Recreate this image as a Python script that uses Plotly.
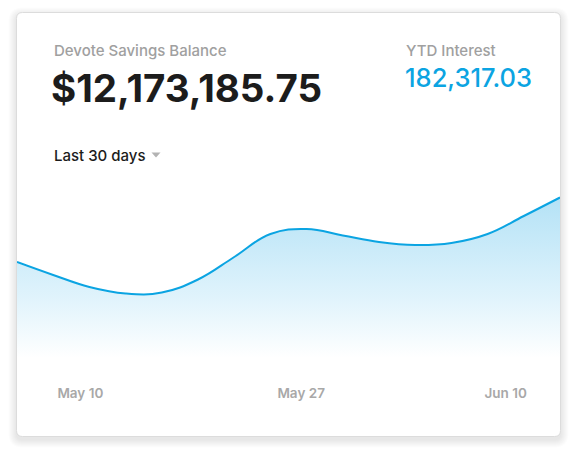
import plotly.graph_objects as go

# ---- data ----
days = [0, 2, 4, 6, 8, 10, 12, 14, 16, 18, 20, 22, 24, 26, 28, 30]
balance_m = [12.044, 12.018, 11.994, 11.981, 11.983, 12.009, 12.054, 12.100,
             12.110, 12.097, 12.084, 12.078, 12.082, 12.100, 12.136, 12.173]
tick_days = [3.5, 15.7, 27.0]
tick_labels = ["May 10", "May 27", "Jun 10"]

title_text = "Devote Savings Balance"
balance_text = "$12,173,185.75"
ytd_title = "YTD Interest"
ytd_value = "182,317.03"
period_text = "Last 30 days"

W, H = 577, 457
L, R, T, B = 17, 17, 170, 77
PW, PH = W - L - R, H - T - B


def px(x):
    return (x - L) / PW


def py(y):
    return (H - B - y) / PH


def rrect(x0, y0, x1, y1, r):
    a, b, c, d = px(x0), px(x1), py(y0), py(y1)
    rx, ry = r / PW, r / PH
    return (f"M {a+rx},{c} L {b-rx},{c} Q {b},{c} {b},{c-ry} "
            f"L {b},{d+ry} Q {b},{d} {b-rx},{d} L {a+rx},{d} "
            f"Q {a},{d} {a},{d+ry} L {a},{c-ry} Q {a},{c} {a+rx},{c} Z")


FONT = "Inter"
BLUE = "#0ba4e2"

fig = go.Figure()
fig.add_trace(go.Scatter(
    x=days, y=balance_m, mode="lines",
    line=dict(color=BLUE, width=2, shape="spline", smoothing=1.2),
    fill="tozeroy",
    fillgradient=dict(type="vertical", start=11.852, stop=12.173,
                      colorscale=[[0, "rgba(255,255,255,1)"],
                                  [0.35, "rgb(226,244,252)"],
                                  [1, "rgb(180,226,246)"]]),
    hoverinfo="skip", showlegend=False, cliponaxis=True,
))

shapes = []
# shadow
for i in range(1, 9):
    shapes.append(dict(type="path", xref="paper", yref="paper", layer="below",
                       path=rrect(16.5 - i, 12.5 - i + 3, 560.5 + i, 436.5 + i + 3, 6 + i),
                       fillcolor="rgba(0,0,0,0.010)", line=dict(width=0)))
# card
shapes.append(dict(type="path", xref="paper", yref="paper", layer="below",
                   path=rrect(16.5, 12.5, 560.5, 436.5, 6),
                   fillcolor="white", line=dict(color="#dcdcdc", width=1)))
# dropdown caret
shapes.append(dict(type="path", xref="paper", yref="paper", layer="above",
                   path=f"M {px(151.5)},{py(152.5)} L {px(160.5)},{py(152.5)} L {px(156)},{py(157.5)} Z",
                   fillcolor="#b3b3b3", line=dict(width=0)))

ann = [
    dict(text=title_text, x=px(51.5), y=py(50), font=dict(family=FONT, size=15, color="#a0a0a0", weight=500)),
    dict(text=balance_text, x=px(49), y=py(88), font=dict(family=FONT, size=38.5, color="#1c1c1c", weight=700)),
    dict(text=ytd_title, x=px(403.5), y=py(50), font=dict(family=FONT, size=15, color="#a0a0a0", weight=500)),
    dict(text=ytd_value, x=px(402.5), y=py(77), font=dict(family=FONT, size=25.5, color=BLUE, weight=500)),
    dict(text=period_text, x=px(52), y=py(155), font=dict(family=FONT, size=15, color="#1c1c1c", weight=500)),
]
for a in ann:
    a.update(xref="paper", yref="paper", xanchor="left", yanchor="middle", showarrow=False)

fig.update_layout(
    width=W, height=H,
    margin=dict(l=L, r=R, t=T, b=B, pad=0),
    paper_bgcolor="white", plot_bgcolor="rgba(0,0,0,0)",
    shapes=shapes, annotations=ann,
    xaxis=dict(range=[0, 30], showgrid=False, zeroline=False, showline=False,
               tickmode="array", tickvals=tick_days, ticktext=tick_labels,
               ticks="", ticklabelstandoff=3,
               tickfont=dict(family=FONT, size=13.5, color="#a8a8a8", weight=600),
               fixedrange=True),
    yaxis=dict(range=[11.808, 12.228], showgrid=False, zeroline=False, showline=False,
               showticklabels=False, ticks="", fixedrange=True),
)

fig.write_html("out.html", config={"displayModeBar": False},
               post_script="document.body.style.margin='0';")
